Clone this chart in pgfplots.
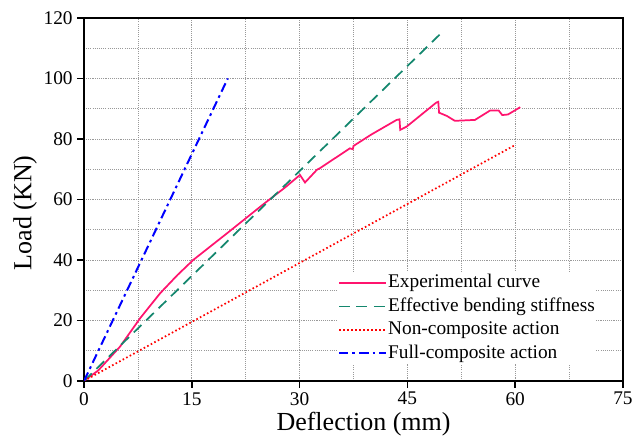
\documentclass[border=0pt]{standalone}
\usepackage{fontspec}
\setmainfont{Liberation Serif}
\usepackage{pgfplots}
\pgfplotsset{compat=1.18}
\definecolor{exppink}{RGB}{255,20,110}
\definecolor{effteal}{RGB}{20,135,110}
\definecolor{nonred}{RGB}{255,0,0}
\definecolor{fullblue}{RGB}{0,0,255}
\begin{document}
\begin{tikzpicture}
\begin{axis}[
  name=ax,
  scale only axis,
  width=404pt, height=272pt,
  xmin=0, xmax=75, ymin=0, ymax=120,
  xtick={0,15,30,45,60,75},
  ytick={0,20,40,60,80,100,120},
  minor x tick num=1, minor y tick num=1,
  grid=both,
  grid style={densely dotted, gray!80, line width=0.6pt},
  minor grid style={densely dotted, gray!80, line width=0.6pt},
  axis line style={line width=1.5pt},
  tick style={line width=1.2pt, black},
  major tick length=5pt,
  minor tick length=0pt,
  tick align=outside,
  xtick pos=bottom, ytick pos=left,
  /pgf/number format/assume math mode=true,
  tick label style={font=\fontsize{14.5}{16}\selectfont},
  xlabel={Deflection (mm)},
  ylabel={Load (KN)},
  label style={font=\fontsize{19.5}{22}\selectfont},
  xlabel style={at={(axis description cs:0.5186,-0.138)}, anchor=base},
  ylabel style={at={(axis description cs:-0.1095,0.463)}, anchor=center},
  legend style={at={(axis description cs:0.471,0.300)}, anchor=north west,
    draw=none, fill=white, inner sep=0pt,
    font=\fontsize{14.5}{16}\selectfont, row sep=1.6pt,
    nodes={inner sep=1pt, text height=10.5pt, text depth=3.5pt}},
  legend cell align=left,
  legend image code/.code={\draw[#1] (0pt,0pt) -- (35pt,0pt);},
  every odd column/.style={column sep=3.5pt},
]
\addplot[exppink, line width=1.3pt] coordinates {
(0,0) (2,3.5) (5,11.3) (7.8,20.7) (10.6,29) (13,35) (15.2,40) (20,49) (25,58.5)
(28,64) (30.05,68.1) (30.75,65.6) (32.4,69.8) (32.8,70.3) (37.0,76.9) (37.4,76.6)
(37.5,77.7) (40,81.5) (43.5,86.3) (43.9,86.5) (44.0,83) (44.9,84.1) (49.0,92)
(49.3,92.3) (49.4,88.7) (50.5,87.6) (51.6,86.0) (54.4,86.3) (56.5,89.4)
(57.7,89.4) (58.2,87.9) (59.0,88.1) (60.7,90.5)
};
\addlegendentry{Experimental curve}
\addplot[effteal, line width=1.3pt, dash pattern=on 8pt off 5pt] coordinates {
(0,0) (49.7,115)
};
\addlegendentry{Effective bending stiffness}
\addplot[nonred, line width=1.3pt, dash pattern=on 1.2pt off 1.8pt] coordinates {
(0,0) (60,78)
};
\addlegendentry{Non-composite action}
\addplot[fullblue, line width=1.5pt, dash pattern=on 7pt off 3pt on 2pt off 3pt] coordinates {
(0,0) (20,100)
};
\addlegendentry{Full-composite action}
\end{axis}
\pgfresetboundingbox
\path ([xshift=-63pt,yshift=-42pt]ax.south west) rectangle ([xshift=15pt,yshift=13.5pt]ax.north east);
\end{tikzpicture}
\end{document}
